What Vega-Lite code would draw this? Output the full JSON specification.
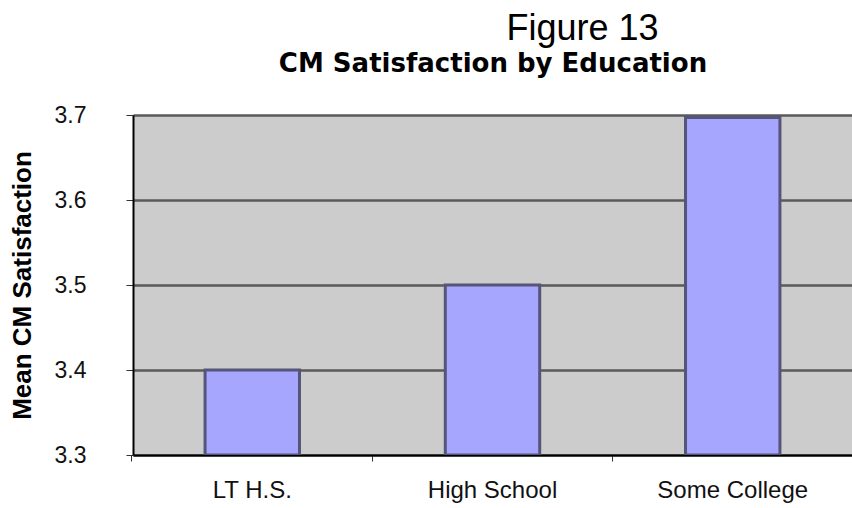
{
  "$schema": "https://vega.github.io/schema/vega-lite/v6.json",
  "autosize": "none",
  "width": 719,
  "height": 340,
  "padding": {"left": 133, "top": 115, "right": 0, "bottom": 53},
  "background": "white",
  "title": {
    "text": "Figure 13",
    "anchor": "middle",
    "dx": 90,
    "offset": 2,
    "fontSize": 36,
    "fontWeight": "normal",
    "font": "Liberation Sans",
    "color": "#000000"
  },
  "config": {
    "view": {"fill": "#cccccc", "stroke": null},
    "font": "Liberation Sans"
  },
  "data": {
    "values": [
      {"education": "LT H.S.", "satisfaction": 3.4},
      {"education": "High School", "satisfaction": 3.5},
      {"education": "Some College", "satisfaction": 3.697}
    ]
  },
  "layer": [
    {
      "mark": {"type": "bar", "fill": "#a6a6ff", "stroke": "#55557a", "strokeWidth": 3, "clip": true},
      "encoding": {
        "x": {
          "field": "education",
          "type": "nominal",
          "sort": null,
          "scale": {"paddingInner": 0.607, "paddingOuter": 0.3},
          "axis": {
            "orient": "bottom",
            "title": null,
            "labelAngle": 0,
            "labelFontSize": 24,
            "labelColor": "#111111",
            "labelPadding": 17,
            "bandPosition": -0.774,
            "tickSize": 6,
            "tickColor": "#333333",
            "tickWidth": 1,
            "domainColor": "#000000",
            "domainWidth": 2,
            "grid": false
          }
        },
        "y": {
          "field": "satisfaction",
          "type": "quantitative",
          "scale": {"domain": [3.3, 3.7], "zero": false, "nice": false},
          "axis": {
            "title": "Mean CM Satisfaction",
            "titleFontSize": 26,
            "titleFontWeight": "bold",
            "titleColor": "#000000",
            "titlePadding": 19,
            "values": [3.3, 3.4, 3.5, 3.6, 3.7],
            "format": ".1f",
            "labelFontSize": 23,
            "labelColor": "#111111",
            "labelPadding": 40,
            "tickSize": 7,
            "tickColor": "#333333",
            "domainColor": "#000000",
            "domainWidth": 2,
            "grid": true,
            "gridColor": "#5a5a5a",
            "gridWidth": 2.5,
            "gridOpacity": 1
          }
        },
        "y2": {"datum": 3.3}
      }
    },
    {
      "mark": {"type": "bar", "opacity": 0},
      "encoding": {
        "x": {
          "field": "education",
          "type": "nominal",
          "sort": null,
          "axis": {
            "orient": "top",
            "title": "CM Satisfaction by Education",
            "titleFontSize": 26,
            "titleFont": "DejaVu Sans",
            "titleFontWeight": "bold",
            "titleColor": "#000000",
            "titlePadding": 39,
            "labels": false,
            "ticks": false,
            "domain": false,
            "grid": false
          }
        },
        "y": {"field": "satisfaction", "type": "quantitative"},
        "y2": {"datum": 3.3}
      }
    }
  ],
  "resolve": {"axis": {"x": "independent"}}
}
